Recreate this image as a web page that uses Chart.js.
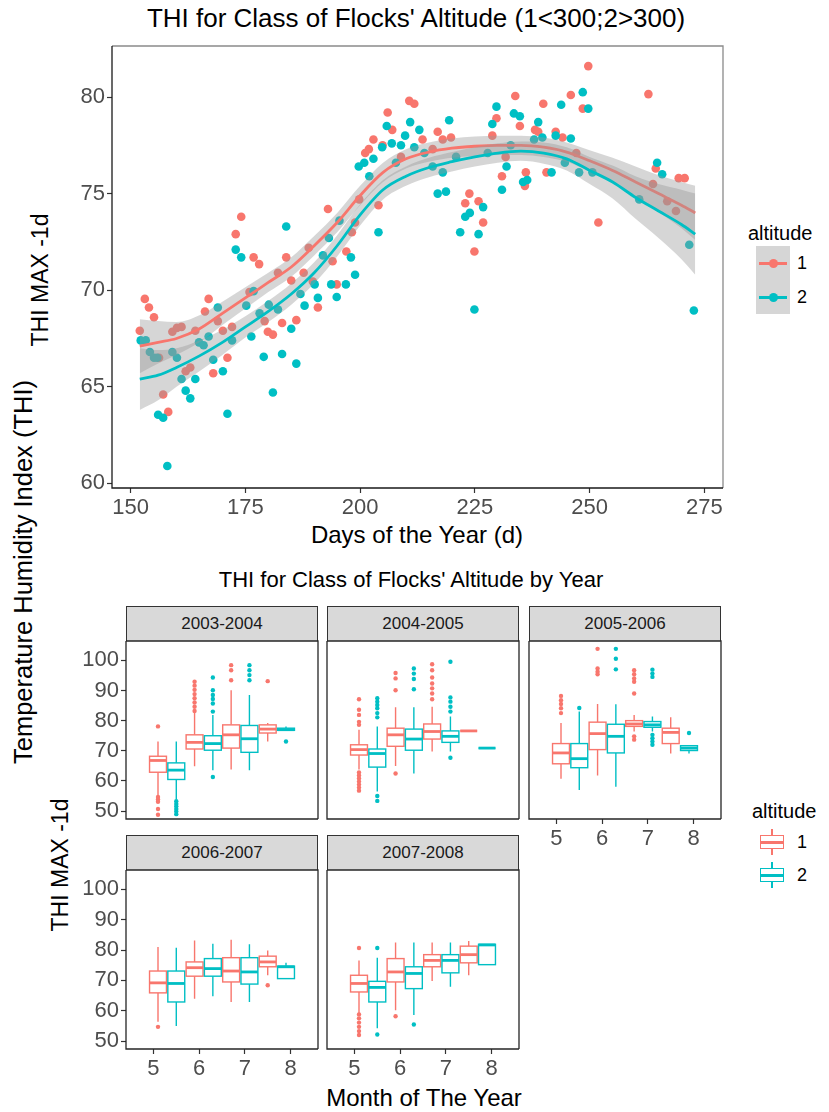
<!DOCTYPE html>
<html>
<head>
<meta charset="utf-8">
<script src="https://cdn.jsdelivr.net/npm/chart.js@4.4.1/dist/chart.umd.min.js"></script>
<style>
  body { margin: 0; background: #fff; }
  #page { position: relative; width: 829px; height: 1112px; overflow: hidden; font-family: "Liberation Sans", Arial, sans-serif; }
  #page canvas { position: absolute; }
  .t { position: absolute; white-space: nowrap; color: #000; transform: translate(-50%, -50%); line-height: 1; }
  .rot { transform: translate(-50%, -50%) rotate(-90deg); }
  .lt { position: absolute; white-space: nowrap; color: #000; transform: translateY(-50%); line-height: 1; }
  .strip { position: absolute; height: 35px; width: 192px; box-sizing: border-box; background: #d9d9d9;
           border: 1px solid #333; border-bottom: none; text-align: center; line-height: 34px; font-size: 17px; color: #1a1a1a; }
  .key { position: absolute; width: 34px; height: 34px; }
</style>
</head>
<body>
<div id="page">
  <div class="t" style="left:416px; top:18px; font-size:26px;">THI for Class of Flocks' Altitude (1&lt;300;2&gt;300)</div>
  <div class="t rot" style="left:40px; top:280px; font-size:23px;">THI MAX -1d</div>
  <div class="t" style="left:417px; top:535px; font-size:24px;">Days of the Year (d)</div>
  <div class="t rot" style="left:24px; top:572px; font-size:25.5px;">Temperature Humidity Index (THI)</div>

  <div class="lt" style="left:748px; top:233px; font-size:20px;">altitude</div>
  <div class="key" style="left:756px; top:246px; background:#d6d6d6;">
    <div style="position:absolute; left:3px; top:15.5px; width:28px; height:3px; background:#F8766D;"></div>
    <div style="position:absolute; left:12.5px; top:12.5px; width:9px; height:9px; border-radius:50%; background:#F8766D;"></div>
  </div>
  <div class="key" style="left:756px; top:280px; background:#d6d6d6;">
    <div style="position:absolute; left:3px; top:15.5px; width:28px; height:3px; background:#00BFC4;"></div>
    <div style="position:absolute; left:12.5px; top:12.5px; width:9px; height:9px; border-radius:50%; background:#00BFC4;"></div>
  </div>
  <div class="lt" style="left:797px; top:263px; font-size:18px;">1</div>
  <div class="lt" style="left:797px; top:297px; font-size:18px;">2</div>

  <div class="t" style="left:411px; top:580px; font-size:22px;">THI for Class of Flocks' Altitude by Year</div>
  <div class="t rot" style="left:60px; top:865px; font-size:23px;">THI MAX -1d</div>
  <div class="t" style="left:424px; top:1098px; font-size:24px;">Month of The Year</div>

  <div class="strip" style="left:126px; top:606px;">2003-2004</div>
  <div class="strip" style="left:327px; top:606px;">2004-2005</div>
  <div class="strip" style="left:529px; top:606px;">2005-2006</div>
  <div class="strip" style="left:126px; top:835px;">2006-2007</div>
  <div class="strip" style="left:327px; top:835px;">2007-2008</div>

  <div class="lt" style="left:752px; top:811px; font-size:20px;">altitude</div>
  <div class="key" style="left:755px; top:825px;">
    <div style="position:absolute; left:16px; top:4px; width:1.5px; height:26px; background:#F8766D;"></div>
    <div style="position:absolute; left:5px; top:10px; width:24px; height:14px; box-sizing:border-box; border:1.5px solid #F8766D; background:#fff;"></div>
    <div style="position:absolute; left:5px; top:16px; width:24px; height:2.5px; background:#F8766D;"></div>
  </div>
  <div class="key" style="left:755px; top:858px;">
    <div style="position:absolute; left:16px; top:4px; width:1.5px; height:26px; background:#00BFC4;"></div>
    <div style="position:absolute; left:5px; top:10px; width:24px; height:14px; box-sizing:border-box; border:1.5px solid #00BFC4; background:#fff;"></div>
    <div style="position:absolute; left:5px; top:16px; width:24px; height:2.5px; background:#00BFC4;"></div>
  </div>
  <div class="lt" style="left:797px; top:842px; font-size:18px;">1</div>
  <div class="lt" style="left:797px; top:875px; font-size:18px;">2</div>

  <canvas id="daily" width="740" height="510" style="left:0; top:30px;"></canvas>
</div>

<script>
// colours for altitude class 1 and 2
const RED = '#F8766D';
const CYAN = '#00BFC4';
const FONT = '"Liberation Sans", Arial, sans-serif';

// ---- daily THI max, days 152-273 ----
const dayTicks = [150, 175, 200, 225, 250, 275];
const thiTicks = [60, 65, 70, 75, 80];

const days1 = [152.0, 153.1, 154.0, 155.1, 156.2, 157.1, 158.2, 159.1, 160.1, 161.1, 162.0, 163.0, 164.1, 166.2, 167.0,
  168.0, 169.0, 170.1, 171.1, 172.1, 172.9, 174.1, 175.9, 176.8, 178.0, 179.2, 179.9, 181.0, 182.1, 183.0, 183.9, 185.0,
  186.1, 187.7, 188.8, 189.7, 190.8, 193.0, 194.0, 194.9, 197.0, 198.2, 198.9, 199.8, 201.1, 201.9, 202.9, 204.0, 204.9,
  206.0, 207.0, 208.9, 210.7, 211.8, 213.6, 215.8, 216.9, 218.0, 219.8, 222.9, 223.8, 224.9, 225.8, 226.8, 228.8, 229.7,
  230.9, 231.7, 233.8, 234.8, 235.9, 236.1, 238.1, 238.8, 239.9, 240.6, 242.6, 244.1, 245.9, 247.1, 248.5, 249.7, 251.9,
  262.8, 263.8, 264.4, 266.9, 268.8, 269.4, 270.7];
const thi1 = [67.9, 69.55, 69.1, 68.6, 66.5, 64.6, 63.7, 67.85, 68.05, 68.1, 65.8, 66.0, 67.9, 68.9, 69.55,
  65.7, 68.4, 67.9, 66.5, 68.1, 72.9, 73.8, 69.9, 71.7, 71.35, 68.4, 67.85, 67.7, 70.9, 68.3, 71.7, 70.5,
  68.45, 70.9, 72.2, 70.45, 69.1, 74.2, 71.5, 70.3, 72.0, 73.0, 73.5, 74.7, 77.1, 77.3, 77.8, 74.4, 77.5,
  79.2, 78.3, 76.9, 79.8, 79.65, 77.8, 77.3, 78.2, 77.8, 77.9, 74.5, 75.0, 72.0, 74.6, 73.5, 78.0, 78.9,
  75.9, 76.9, 80.05, 78.5, 75.4, 76.1, 78.3, 78.2, 79.65, 76.1, 78.2, 77.9, 80.1, 77.1, 79.4, 81.6, 73.5,
  80.15, 75.5, 76.3, 74.6, 74.1, 75.8, 75.8];

const days2 = [152.2, 153.3, 154.2, 155.1, 155.8, 156.0, 157.1, 158.0, 159.1, 160.1, 161.1, 162.0, 163.0, 164.1, 164.9,
  165.9, 167.0, 168.0, 169.0, 170.1, 171.1, 172.1, 172.9, 174.1, 175.2, 176.3, 176.8, 178.1, 179.0, 180.1, 181.0, 182.1,
  183.0, 183.9, 185.0, 186.1, 187.0, 187.9, 190.1, 190.8, 191.9, 193.2, 193.7, 194.9, 195.5, 196.9, 198.0, 198.9, 199.7,
  200.9, 202.0, 202.9, 204.0, 204.8, 205.8, 206.9, 207.8, 208.9, 209.8, 210.9, 211.8, 212.9, 214.0, 215.8, 216.9, 218.0,
  218.7, 219.4, 220.9, 221.8, 222.9, 223.9, 224.9, 225.8, 226.8, 227.8, 228.8, 229.7, 230.9, 231.9, 232.8, 233.5, 234.8,
  235.5, 236.4, 237.9, 238.8, 239.7, 241.7, 242.6, 243.8, 244.6, 245.9, 247.7, 248.5, 249.7, 250.6, 260.8, 264.7, 265.8,
  271.7, 272.7];
const thi2 = [67.4, 67.4, 66.8, 66.5, 66.5, 63.55, 63.4, 60.9, 66.8, 66.5, 65.4, 64.8, 64.4, 65.4, 67.3,
  67.15, 67.6, 66.4, 69.1, 65.8, 63.6, 67.4, 72.1, 71.7, 69.2, 67.6, 69.95, 68.8, 66.55, 69.25, 64.7, 69.0,
  66.7, 73.3, 68.0, 66.2, 69.8, 69.2, 70.3, 69.6, 71.8, 72.7, 70.3, 69.65, 73.6, 70.3, 71.7, 70.8, 76.4,
  76.6, 75.9, 76.8, 73.0, 77.4, 78.5, 77.6, 76.6, 77.5, 78.0, 78.7, 77.4, 78.3, 77.1, 76.4, 75.0, 76.1,
  75.1, 78.8, 76.9, 73.0, 73.8, 74.0, 69.0, 72.9, 74.3, 77.1, 78.6, 79.5, 75.2, 76.4, 77.5, 79.15, 79.0,
  75.6, 75.7, 77.8, 78.7, 77.9, 76.1, 78.0, 79.6, 76.6, 77.85, 76.1, 80.25, 79.4, 76.1, 74.7, 76.6, 76.0,
  72.35, 68.95];

// smoothed trend with its confidence band
const fitDays = [152, 156, 160, 165, 170, 175, 180, 185, 190, 195, 200, 205, 210, 215, 220, 225, 230, 235, 240, 245, 250, 255, 260, 265, 270, 273];
const fit1 = [67.1, 67.3, 67.5, 68.0, 68.8, 69.6, 70.4, 71.2, 72.3, 73.5, 74.9, 76.1, 76.8, 77.15, 77.35, 77.45, 77.5, 77.5, 77.4, 77.15, 76.7, 76.2, 75.6, 75.0, 74.4, 74.0];
const low1 = [65.7, 66.2, 66.65, 67.3, 68.2, 69.05, 69.9, 70.7, 71.8, 73.0, 74.4, 75.6, 76.3, 76.65, 76.85, 76.95, 77.0, 77.0, 76.9, 76.65, 76.15, 75.55, 74.8, 74.05, 73.2, 72.6];
const high1 = [68.5, 68.4, 68.35, 68.7, 69.4, 70.15, 70.9, 71.7, 72.8, 74.0, 75.4, 76.6, 77.3, 77.65, 77.85, 77.95, 78.0, 78.0, 77.9, 77.65, 77.25, 76.85, 76.4, 75.95, 75.6, 75.4];
const fit2 = [65.4, 65.6, 66.0, 66.6, 67.3, 68.1, 68.9, 69.8, 70.9, 72.3, 73.9, 75.2, 75.9, 76.35, 76.65, 76.9, 77.1, 77.2, 77.1, 76.8, 76.2, 75.6, 74.8, 74.1, 73.4, 72.9];
const low2 = [63.8, 64.3, 65.0, 65.8, 66.65, 67.55, 68.35, 69.25, 70.35, 71.75, 73.35, 74.7, 75.4, 75.85, 76.15, 76.4, 76.6, 76.7, 76.55, 76.2, 75.5, 74.75, 73.7, 72.7, 71.6, 70.8];
const high2 = [67.0, 66.9, 67.0, 67.4, 67.95, 68.65, 69.45, 70.35, 71.45, 72.85, 74.45, 75.7, 76.4, 76.85, 77.15, 77.4, 77.6, 77.7, 77.65, 77.4, 76.9, 76.45, 75.9, 75.5, 75.2, 75.0];

// ---- THI max by month and period ----
const months = [5, 6, 7, 8];
const boxTicks = [50, 60, 70, 80, 90, 100];
const periods = ['2003-2004', '2004-2005', '2005-2006', '2006-2007', '2007-2008'];
// each row: [lower whisker, Q1, median, Q3, upper whisker]; order m5/alt1, m5/alt2, m6/alt1, ...
const box2003 = [[55.0, 62.9, 66.8, 68.2, 73.1], [53.9, 60.5, 63.6, 66.0, 73.1], [64.9, 70.6, 72.8, 75.3, 82.5], [63.6, 70.2, 72.4, 75.0, 81.9],
  [63.8, 70.9, 75.3, 78.6, 90.1], [63.6, 69.5, 74.0, 78.4, 88.5], [73.1, 75.9, 77.2, 78.6, 79.2], [76.8, 76.8, 77.0, 77.5, 78.1]];
const out2003 = [[78.1, 54.7, 53.9, 53.1, 50.7, 48.8], [53.3, 52.4, 51.6, 50.7, 49.9, 49.0], [92.9, 91.6, 90.2, 88.8, 87.4, 86.0, 84.6, 83.2],
  [94.3, 90.1, 88.5, 87.2, 85.7, 83.0, 61.3], [98.4, 96.7, 93.4], [98.4, 96.7, 95.1, 93.4], [93.1], [73.1]];
const box2004 = [[63.8, 68.6, 70.4, 72.0, 77.0], [56.5, 64.6, 69.1, 70.6, 78.1], [65.0, 71.5, 75.3, 77.5, 84.4], [62.5, 70.2, 73.9, 77.2, 84.4],
  [69.8, 73.9, 76.4, 78.9, 84.6], [69.8, 72.8, 74.8, 76.6, 81.4], [76.6, 76.6, 76.6, 76.6, 76.6], [70.9, 70.9, 70.9, 70.9, 70.9]];
const out2004 = [[87.1, 83.6, 81.9, 79.6, 78.6, 62.8, 61.8, 60.8, 59.8, 58.8, 57.8, 56.8], [87.4, 86.3, 85.2, 84.1, 82.5, 81.1, 55.0, 53.4],
  [95.8, 94.0, 90.1, 62.5], [97.3, 95.6, 93.8, 90.4], [98.7, 96.7, 94.3, 92.3, 90.7, 89.0, 87.1], [99.5, 87.7, 86.3, 84.6, 83.0, 67.7], [], []];
const box2005 = [[60.7, 65.7, 69.3, 72.4, 79.2], [57.0, 64.4, 67.4, 72.4, 83.0], [61.8, 70.4, 75.7, 79.5, 85.5], [58.1, 69.3, 74.8, 78.8, 85.4],
  [76.4, 78.1, 78.9, 80.0, 81.9], [76.4, 77.8, 78.6, 79.7, 81.4], [69.1, 72.4, 76.1, 77.5, 81.1], [69.1, 70.1, 70.9, 71.7, 71.7]];
const out2005 = [[88.2, 86.8, 85.5, 84.1, 82.5], [84.2], [103.8, 97.3, 96.2, 95.4], [103.8, 100.5, 97.0],
  [96.7, 95.4, 94.0, 92.9, 89.0, 74.8, 73.7], [96.9, 95.6, 94.5, 75.3, 74.2, 73.1, 72.0], [], [75.9]];
const box2006 = [[56.4, 65.9, 69.2, 73.1, 81.0], [55.0, 62.9, 69.0, 73.1, 80.8], [64.0, 71.4, 74.2, 76.1, 83.2], [64.8, 71.4, 73.9, 77.2, 82.1],
  [62.9, 69.5, 73.1, 77.5, 83.4], [62.9, 68.8, 72.8, 77.5, 81.9], [71.7, 74.5, 76.1, 78.0, 79.9], [70.6, 70.6, 74.5, 74.7, 75.8]];
const out2006 = [[54.7], [], [], [], [], [], [68.4], []];
const box2007 = [[59.3, 66.2, 69.0, 71.7, 76.6], [54.2, 62.9, 67.7, 69.7, 77.5], [60.2, 69.5, 72.8, 77.2, 82.5], [58.6, 67.3, 72.3, 74.5, 82.5],
  [69.8, 74.5, 76.6, 78.5, 82.5], [67.9, 72.5, 76.6, 78.5, 82.5], [71.7, 75.8, 78.5, 81.3, 83.0], [75.2, 75.2, 81.7, 81.9, 81.9]];
const out2007 = [[80.7, 58.8, 57.5, 56.1, 54.7, 53.3, 52.0], [80.7, 52.2], [58.2], [55.5], [], [], [], []];

const tickFont = { family: FONT, size: 22 };
const noChrome = { legend: { display: false }, tooltip: { enabled: false } };

function pts(xs, ys) { return xs.map((x, i) => ({ x, y: ys[i] })); }

// panel outline; the top plot keeps a light frame with dark axis lines
function framePlugin(light, dark) {
  return {
    id: 'frame',
    afterDraw(chart) {
      const { ctx, chartArea: a } = chart;
      ctx.save();
      ctx.lineWidth = 1.3;
      ctx.strokeStyle = light;
      ctx.beginPath();
      ctx.moveTo(a.left, a.top); ctx.lineTo(a.right, a.top); ctx.lineTo(a.right, a.bottom);
      ctx.stroke();
      ctx.strokeStyle = dark;
      ctx.beginPath();
      ctx.moveTo(a.left, a.top); ctx.lineTo(a.left, a.bottom); ctx.lineTo(a.right, a.bottom);
      ctx.stroke();
      ctx.restore();
    }
  };
}

function tickAxis(min, max, values, shown, size) {
  return {
    type: 'linear', min, max, display: shown,
    afterBuildTicks: s => { s.ticks = values.map(v => ({ value: v })); },
    afterFit: s => {
      if (!shown) return;
      if (s.isHorizontal()) s.height = size; else s.width = size;
    },
    grid: { drawOnChartArea: false, drawTicks: true, tickLength: 5, tickColor: '#333', tickWidth: 1.2 },
    border: { display: false },
    ticks: { font: tickFont, color: '#4D4D4D', padding: 2, maxRotation: 0, autoSkip: false }
  };
}

const band = 'rgba(153,153,153,0.4)';
const fitLine = (data, color, order) => ({ type: 'line', data, borderColor: color, borderWidth: 2.8, pointRadius: 0, fill: false, cubicInterpolationMode: 'monotone', order });
const edge = (data, order, fill) => ({ type: 'line', data, borderWidth: 0, borderColor: 'rgba(0,0,0,0)', pointRadius: 0, fill, backgroundColor: band, cubicInterpolationMode: 'monotone', order });

new Chart(document.getElementById('daily'), {
  type: 'scatter',
  data: {
    datasets: [
      edge(pts(fitDays, low1), 3, false),
      edge(pts(fitDays, high1), 3, '-1'),
      fitLine(pts(fitDays, fit1), RED, 2),
      edge(pts(fitDays, low2), 1, false),
      edge(pts(fitDays, high2), 1, '-1'),
      fitLine(pts(fitDays, fit2), CYAN, 0),
      { label: '1', data: pts(days1, thi1), backgroundColor: RED, borderWidth: 0, pointRadius: 4.3, order: 5 },
      { label: '2', data: pts(days2, thi2), backgroundColor: CYAN, borderWidth: 0, pointRadius: 4.3, order: 4 }
    ]
  },
  options: {
    responsive: false, animation: false, events: [],
    layout: { padding: { left: 0, right: 17, top: 16, bottom: 0 } },
    scales: {
      x: tickAxis(145.95, 279.05, dayTicks, true, 52),
      y: tickAxis(59.76, 82.64, thiTicks, true, 112)
    },
    plugins: noChrome
  },
  plugins: [framePlugin('#8a8a8a', '#1a1a1a')]
});

// boxes with whiskers, placed side by side for each month
const boxWidth = 0.37;
function boxPlugin(stats) {
  return {
    id: 'boxes',
    beforeDatasetsDraw(chart) {
      const { ctx, scales: { x, y } } = chart;
      stats.forEach((s, k) => {
        const c = months[0] + 0.1 + 0.4 * k;
        const l = x.getPixelForValue(c - boxWidth / 2), r = x.getPixelForValue(c + boxWidth / 2);
        const cx = x.getPixelForValue(c);
        const [lo, q1, md, q3, hi] = s.map(v => y.getPixelForValue(v));
        ctx.save();
        ctx.strokeStyle = k % 2 ? CYAN : RED;
        ctx.lineWidth = 1.4;
        ctx.beginPath();
        ctx.moveTo(cx, q3); ctx.lineTo(cx, hi);
        ctx.moveTo(cx, q1); ctx.lineTo(cx, lo);
        ctx.stroke();
        ctx.fillStyle = '#fff';
        ctx.fillRect(l, q3, r - l, q1 - q3);
        ctx.strokeRect(l, q3, r - l, q1 - q3);
        ctx.lineWidth = 2.8;
        ctx.beginPath();
        ctx.moveTo(l, md); ctx.lineTo(r, md);
        ctx.stroke();
        ctx.restore();
      });
    }
  };
}

const page = document.getElementById('page');
const PAD = 16;
function panel(stats, outliers, area, showX, showY) {
  const padL = showY ? 60 : PAD, padB = showX ? 45 : PAD;
  const cv = document.createElement('canvas');
  cv.width = area.w + padL + PAD;
  cv.height = area.h + PAD + padB;
  cv.style.left = (area.l - padL) + 'px';
  cv.style.top = (area.t - PAD) + 'px';
  page.appendChild(cv);
  const outPts = [[], []];
  outliers.forEach((vals, k) => vals.forEach(v => outPts[k % 2].push({ x: months[0] + 0.1 + 0.4 * k, y: v })));
  new Chart(cv, {
    type: 'scatter',
    data: {
      datasets: [
        { data: outPts[0], backgroundColor: RED, borderWidth: 0, pointRadius: 2.2 },
        { data: outPts[1], backgroundColor: CYAN, borderWidth: 0, pointRadius: 2.2 }
      ]
    },
    options: {
      responsive: false, animation: false, events: [],
      layout: { padding: { left: showY ? 0 : PAD, right: PAD, top: PAD, bottom: showX ? 0 : PAD } },
      scales: {
        x: tickAxis(4.4, 8.6, months, showX, 45),
        y: tickAxis(47.4, 106.4, boxTicks, showY, 60)
      },
      plugins: noChrome
    },
    plugins: [boxPlugin(stats), framePlugin('#262626', '#262626')]
  });
}

panel(box2003, out2003, { l: 126, t: 641, w: 192, h: 178 }, false, true);
panel(box2004, out2004, { l: 327, t: 641, w: 192, h: 178 }, false, false);
panel(box2005, out2005, { l: 529, t: 641, w: 192, h: 178 }, true, false);
panel(box2006, out2006, { l: 126, t: 870, w: 192, h: 179 }, true, true);
panel(box2007, out2007, { l: 327, t: 870, w: 192, h: 179 }, true, false);
</script>
</body>
</html>
